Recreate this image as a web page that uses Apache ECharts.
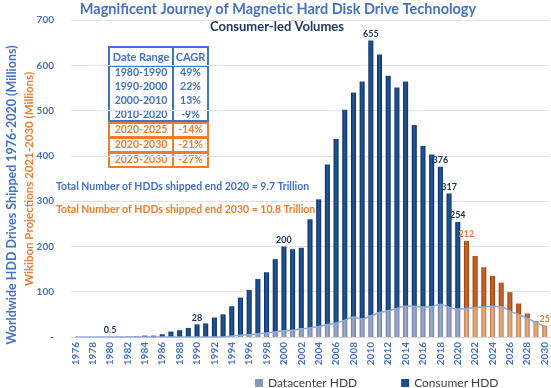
<!DOCTYPE html>
<html>
<head>
<meta charset="utf-8">
<script src="https://cdn.jsdelivr.net/npm/echarts@6/dist/echarts.min.js"></script>
<style>
html,body{margin:0;padding:0;background:#fff;}
#c{width:551px;height:388px;}
</style>
</head>
<body>
<div id="c"></div>
<script>
const years = ['1976','1977','1978','1979','1980','1981','1982','1983','1984','1985','1986','1987','1988','1989','1990','1991','1992','1993','1994','1995','1996','1997','1998','1999','2000','2001','2002','2003','2004','2005','2006','2007','2008','2009','2010','2011','2012','2013','2014','2015','2016','2017','2018','2019','2020','2021','2022','2023','2024','2025','2026','2027','2028','2029','2030'];
const datacenterHDD = [0,0,0,0,0,0,0,0,0,0,0,0,0,0,0,0,0,0,2,4,5,7,9,11,14,15,18,20,23,27,31,37,44,40,47,54,58,63,68,68,66,67,72,66,62,63,65,66,68,67,57,50,41,32,23];
const consumerHDD = [0,0,0.1,0.2,0.5,0.8,1,1.5,3,3,6,12,15,20,28,30,43,50,66,83,99,121,134,161,186,179,179,240,281,354,406,465,496,524,608,570,519,488,496,400,356,336,304,251,192,149,114,88,67,53,42,24,11,3,2];
const labeledYears = ['1980','1990','2000','2010','2018','2019','2020','2021','2030'];
const firstProjectionYear = '2021';
const yTicks = [0,100,200,300,400,500,600,700];
const tableHeader = ['Date Range','CAGR'];
const tableRanges = ['1980-1990','1990-2000','2000-2010','2010-2020','2020-2025','2020-2030','2025-2030'];
const tableCagr = ['49%','22%','13%','-9%','-14%','-21%','-27%'];
const tableProjection = [false,false,false,false,true,true,true];
const titleText = 'Magnificent Journey of Magnetic Hard Disk Drive Technology';
const subtitleText = 'Consumer-led Volumes';
const yTitleHist = 'Worldwide HDD Drives Shipped 1976-2020 (Millions)';
const yTitleProj = 'Wikibon Projections 2021-2030 (Millions)';
const note2020 = 'Total Number of HDDs shipped end 2020 = 9.7 Trillion';
const note2030 = 'Total Number of HDDs shipped end 2030 = 10.8 Trillion';

const BLUE = '#4472C4', ORANGE = '#ED7D31', NAVY = '#1F3864';
const FONT = 'Lato';
const projStart = years.indexOf(firstProjectionYear);

function grad(a, b) {
  return new echarts.graphic.LinearGradient(0,0,1,0,[{offset:0,color:a},{offset:0.5,color:b},{offset:1,color:a}]);
}
const consHist = grad('#0b2e5c','#235a9f');
const consProj = grad('#9c3f0a','#d0692a');
const dcHist = grad('#6c7ca3','#a2afcd');
const dcProj = grad('#c08052','#e3b08b');

const consumerData = consumerHDD.map((v,i)=>{
  const item = {value:v};
  if (labeledYears.indexOf(years[i]) >= 0) {
    const tot = Math.round((v + datacenterHDD[i])*10)/10;
    item.label = {show:true, position:'top', distance:2, formatter: String(tot),
      color: i >= projStart ? ORANGE : NAVY, fontWeight:'bold', fontSize:9, fontFamily:FONT};
  }
  return item;
});

// table graphics
const tbl = [];
const tx0 = 109, tx1 = 208, tdiv = 173;
tbl.push({type:'rect', shape:{x:tx0,y:47,width:tx1-tx0,height:19}, style:{fill:'#fff',stroke:BLUE,lineWidth:2}});
tbl.push({type:'line', shape:{x1:tdiv,y1:47,x2:tdiv,y2:66}, style:{stroke:BLUE,lineWidth:2}});
tbl.push({type:'text', x:(tx0+tdiv)/2, y:57, style:{text:tableHeader[0], fill:BLUE, font:'bold 11px '+FONT, align:'center', verticalAlign:'middle'}});
tbl.push({type:'text', x:(tdiv+tx1)/2, y:57, style:{text:tableHeader[1], fill:BLUE, font:'bold 11px '+FONT, align:'center', verticalAlign:'middle'}});
tbl.push({type:'rect', shape:{x:tx0,y:66,width:tx1-tx0,height:55}, style:{fill:'#fff',stroke:BLUE,lineWidth:2}});
tbl.push({type:'line', shape:{x1:tdiv,y1:66,x2:tdiv,y2:121}, style:{stroke:BLUE,lineWidth:2}});
const rowY = [73,87,101,115,130,145,160];
const projBoxes = [[123,137],[138,152],[153,167]];
projBoxes.forEach(b=>{
  tbl.push({type:'rect', shape:{x:tx0,y:b[0],width:tx1-tx0,height:b[1]-b[0]}, style:{fill:'#fff',stroke:ORANGE,lineWidth:2}});
  tbl.push({type:'line', shape:{x1:tdiv,y1:b[0],x2:tdiv,y2:b[1]}, style:{stroke:ORANGE,lineWidth:2}});
});
tableRanges.forEach((r,i)=>{
  const c = tableProjection[i] ? ORANGE : BLUE;
  tbl.push({type:'text', x:(tx0+tdiv)/2, y:rowY[i], style:{text:r, fill:c, font:'bold 10.5px '+FONT, align:'center', verticalAlign:'middle'}});
  tbl.push({type:'text', x:(tdiv+tx1)/2, y:rowY[i], style:{text:tableCagr[i], fill:c, font:'bold 10.5px '+FONT, align:'center', verticalAlign:'middle'}});
});

const chart = echarts.init(document.getElementById('c'), null, {renderer:'canvas'});
chart.setOption({
  animation:false,
  backgroundColor:'#fff',
  grid:{left:71,right:2,top:20,bottom:51,containLabel:false},
  xAxis:{type:'category', data:years,
    axisTick:{show:false},
    axisLine:{lineStyle:{color:'#d9d9d9'}},
    axisLabel:{interval:1, rotate:90, color:BLUE, fontWeight:'bold', fontSize:10, fontFamily:FONT, margin:5}},
  yAxis:{type:'value', min:yTicks[0], max:yTicks[yTicks.length-1], interval:100,
    axisLine:{show:false}, axisTick:{show:false},
    splitLine:{lineStyle:{color:'#e3e3e3'}},
    axisLabel:{color:BLUE, fontWeight:'bold', fontSize:10, fontFamily:FONT, margin:17,
      formatter:v=> v===0 ? '-' : String(v)}},
  legend:{left:250, top:372, itemWidth:8, itemHeight:8, itemGap:44,
    textStyle:{color:'#404040', fontSize:12, fontFamily:FONT},
    data:[{name:'Datacenter HDD', icon:'rect', itemStyle:{color:'#8896ba'}},
          {name:'Consumer HDD', icon:'rect', itemStyle:{color:'#1e4c8e'}}]},
  graphic:[
    {type:'text', x:278, y:9, style:{text:titleText, fill:BLUE, font:'bold 14.5px '+FONT, align:'center', verticalAlign:'middle'}},
    {type:'text', x:277, y:27, style:{text:subtitleText, fill:NAVY, font:'bold 13px '+FONT, align:'center', verticalAlign:'middle'}},
    {type:'text', x:12, y:195, rotation:Math.PI/2, style:{text:yTitleHist, fill:BLUE, font:'bold 12.5px '+FONT, align:'center', verticalAlign:'middle'}},
    {type:'text', x:29, y:179, rotation:Math.PI/2, style:{text:yTitleProj, fill:ORANGE, font:'bold 11.5px '+FONT, align:'center', verticalAlign:'middle'}},
    {type:'text', x:56, y:187, style:{text:note2020, fill:BLUE, font:'bold 10.5px '+FONT, align:'left', verticalAlign:'middle'}},
    {type:'text', x:56, y:210, style:{text:note2030, fill:ORANGE, font:'bold 10.5px '+FONT, align:'left', verticalAlign:'middle'}},
    {type:'group', children:tbl}
  ],
  series:[
    {name:'Datacenter HDD', type:'bar', stack:'hdd', barWidth:'58%', data:datacenterHDD,
      itemStyle:{color:p=> p.dataIndex>=projStart ? dcProj : dcHist}},
    {name:'Consumer HDD', type:'bar', stack:'hdd', barWidth:'58%', data:consumerData,
      itemStyle:{color:p=> p.dataIndex>=projStart ? consProj : consHist}},
    {name:'dcLine', type:'line', data:datacenterHDD, smooth:true, showSymbol:false, z:5,
      lineStyle:{color:'#8faadc', width:1.5}, itemStyle:{color:'#8faadc'}, silent:true}
  ]
});
</script>
</body>
</html>
